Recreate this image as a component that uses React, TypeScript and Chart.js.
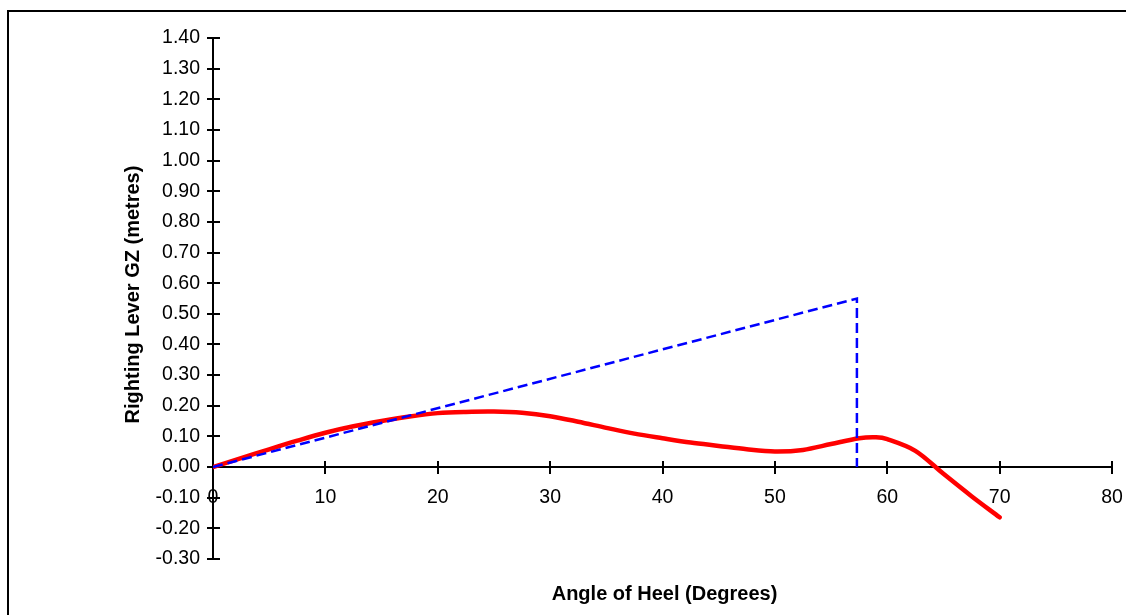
import React, { useEffect, useRef } from "react";
import { Chart, registerables } from "chart.js";

Chart.register(...registerables);

// ---- Data ----
const heelAngles = [0, 2.5, 5, 7.5, 10, 12.5, 15, 17.5, 20, 22.5, 25, 27.5, 30, 32.5, 35, 37.5, 40, 42.5, 45, 47.5, 50, 52.5, 55, 57.5, 59, 60, 62.5, 65, 67.5, 70];
const gzValues = [0, 0.029, 0.058, 0.086, 0.112, 0.133, 0.150, 0.165, 0.176, 0.180, 0.181, 0.177, 0.166, 0.148, 0.128, 0.109, 0.094, 0.080, 0.069, 0.058, 0.051, 0.056, 0.075, 0.094, 0.097, 0.091, 0.053, -0.022, -0.095, -0.164];
const gmLineAngles = [0, 57.3, 57.3];
const gmLineValues = [0, 0.55, 0];

const xMin = 0;
const xMax = 80;
const xStep = 10;
const yMin = -0.3;
const yMax = 1.4;
const yStep = 0.1;

const xTitle = "Angle of Heel (Degrees)";
const yTitle = "Righting Lever GZ (metres)";

const FONT = '"Liberation Sans", Arial, Helvetica, sans-serif';
const W = 1126;
const H = 615;

const decorPlugin = {
  id: "decor",
  beforeDraw(chart: any) {
    const ctx = chart.ctx;
    ctx.save();
    ctx.strokeStyle = "#000";
    ctx.lineWidth = 2;
    ctx.strokeRect(8, 11, chart.width + 50, chart.height + 50);
    ctx.restore();
  },
  beforeDatasetsDraw(chart: any) {
    const ctx = chart.ctx;
    const xs = chart.scales.x;
    const ys = chart.scales.y;
    const x0 = xs.getPixelForValue(0);
    const y0 = ys.getPixelForValue(0);
    ctx.save();
    ctx.strokeStyle = "#000";
    ctx.lineWidth = 2;
    ctx.beginPath();
    ys.ticks.forEach((t: any) => {
      const py = Math.round(ys.getPixelForValue(t.value));
      ctx.moveTo(x0 - 6, py);
      ctx.lineTo(x0 + 7, py);
    });
    xs.ticks.forEach((t: any) => {
      const px = Math.round(xs.getPixelForValue(t.value));
      ctx.moveTo(px, y0 - 6);
      ctx.lineTo(px, y0 + 7);
    });
    ctx.stroke();
    ctx.restore();
  },
  afterDraw(chart: any) {
    const ctx = chart.ctx;
    const area = chart.chartArea;
    ctx.save();
    ctx.fillStyle = "#000";
    ctx.font = `bold 20px ${FONT}`;
    ctx.textAlign = "center";
    ctx.textBaseline = "middle";
    ctx.fillText(xTitle, (area.left + area.right) / 2 + 2, 594);
    ctx.translate(133, (area.top + area.bottom) / 2 - 4);
    ctx.rotate(-Math.PI / 2);
    ctx.fillText(yTitle, 0, 0);
    ctx.restore();
  },
};

export default function App() {
  const canvasRef = useRef<HTMLCanvasElement | null>(null);

  useEffect(() => {
    document.documentElement.style.overflow = "hidden";
    document.body.style.margin = "0";
    document.body.style.overflow = "hidden";
    const canvas = canvasRef.current;
    if (!canvas) return;
    const chart = new Chart(canvas, {
      type: "line",
      data: {
        datasets: [
          {
            label: "GM",
            data: gmLineAngles.map((a, i) => ({ x: a, y: gmLineValues[i] })),
            borderColor: "#0000FF",
            borderWidth: 2.5,
            borderDash: [10, 5],
            pointRadius: 0,
            tension: 0,
            fill: false,
          },
          {
            label: "GZ",
            data: heelAngles.map((a, i) => ({ x: a, y: gzValues[i] })),
            borderColor: "#FF0000",
            borderWidth: 4.5,
            pointRadius: 0,
            tension: 0.33,
            fill: false,
            borderCapStyle: "round",
            borderJoinStyle: "round",
          },
        ],
      },
      options: {
        animation: false,
        responsive: false,
        devicePixelRatio: 1,
        layout: { padding: { left: 0, top: 38, right: 14, bottom: 56 } },
        plugins: {
          legend: { display: false },
          tooltip: { enabled: false },
          title: { display: false },
        },
        scales: {
          x: {
            type: "linear",
            position: { y: 0 } as any,
            min: xMin,
            max: xMax,
            afterFit: (scale: any) => {
              scale.paddingLeft = 0;
              scale.paddingRight = 0;
            },
            grid: { display: true, drawOnChartArea: false, drawTicks: false },
            border: { display: true, color: "#000", width: 2 },
            ticks: {
              stepSize: xStep,
              color: "#000",
              padding: 19,
              font: { family: FONT, size: 19.5 },
              maxRotation: 0,
              autoSkip: false,
            },
          },
          y: {
            type: "linear",
            min: yMin,
            max: yMax,
            afterFit: (scale: any) => {
              scale.width = 213;
            },
            grid: { display: true, drawOnChartArea: false, drawTicks: false },
            border: { display: true, color: "#000", width: 2 },
            ticks: {
              stepSize: yStep,
              color: "#000",
              padding: 13,
              font: { family: FONT, size: 19.5 },
              autoSkip: false,
              callback: (v: any) => Number(v).toFixed(2),
            },
          },
        },
      },
      plugins: [decorPlugin],
    });
    return () => chart.destroy();
  }, []);

  return (
    <div style={{ width: W, height: H, position: "relative", overflow: "hidden" }}>
      <canvas ref={canvasRef} width={W} height={H} style={{ display: "block" }} />
    </div>
  );
}
